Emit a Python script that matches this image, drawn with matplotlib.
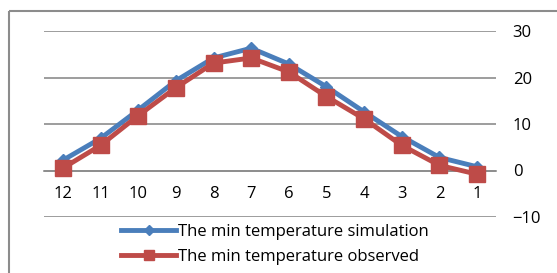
import matplotlib
matplotlib.use("Agg")
import matplotlib.pyplot as plt
from matplotlib.patches import Rectangle
from matplotlib.lines import Line2D
import numpy as np

months = ["12", "11", "10", "9", "8", "7", "6", "5", "4", "3", "2", "1"]
simulation = [2.2, 6.9, 13.0, 19.3, 24.2, 26.3, 22.9, 18.0, 12.6, 7.3, 2.8, 0.8]
observed = [0.5, 5.4, 11.8, 17.8, 23.1, 24.2, 21.2, 15.9, 11.1, 5.4, 1.1, -0.8]
yticks = [-10, 0, 10, 20, 30]
labels = ['The min temperature simulation', 'The min temperature observed']

plt.rcParams['font.family'] = ['Open Sans', 'DejaVu Sans']

W, H = 557, 273
fig = plt.figure(figsize=(W/100, H/100), dpi=100)
ax = fig.add_axes([44/W, 1-217/H, (496-44)/W, (217-31)/H])

x = np.arange(len(months))
blue = '#4a7ebb'
red = '#be4b48'
ax.plot(x, simulation, color=blue, lw=3.5, marker='D', ms=6, mec=blue, mfc=blue, zorder=3)
ax.plot(x, observed, color=red, lw=3.5, marker='s', ms=12, mec=red, mfc=red, zorder=4)

ax.set_xlim(-0.5, len(months)-0.5)
ax.set_ylim(-10, 30)
ax.set_yticks(yticks)
ax.yaxis.tick_right()
ax.tick_params(axis='y', length=0, pad=12, labelsize=12)
ax.grid(axis='y', color='#8c8c8c', lw=1.2)
ax.set_axisbelow(True)
for s in ['top', 'right', 'left']:
    ax.spines[s].set_visible(False)
ax.spines['bottom'].set_position(('data', 0))
ax.spines['bottom'].set_color('#8c8c8c')
ax.spines['bottom'].set_linewidth(1.2)
ax.set_xticks(x)
ax.set_xticklabels(months)
ax.tick_params(axis='x', length=0, pad=11, labelsize=12)

handles = [Line2D([], [], color=blue, lw=3.5, marker='D', ms=5),
           Line2D([], [], color=red, lw=3.5, marker='s', ms=7)]
fig.legend(handles, labels, loc='upper left', bbox_to_anchor=(121/W, 1-224/H), frameon=False,
           fontsize=12, handlelength=3.3, handletextpad=0.15, labelspacing=0.55,
           borderaxespad=0, borderpad=0)

fig.add_artist(Rectangle((9/W, 1-11/H), 1.0, -1.0, transform=fig.transFigure,
                         fill=False, edgecolor='#8c8c8c', lw=1.5, clip_on=False))

fig.savefig('out.png', dpi=100)
